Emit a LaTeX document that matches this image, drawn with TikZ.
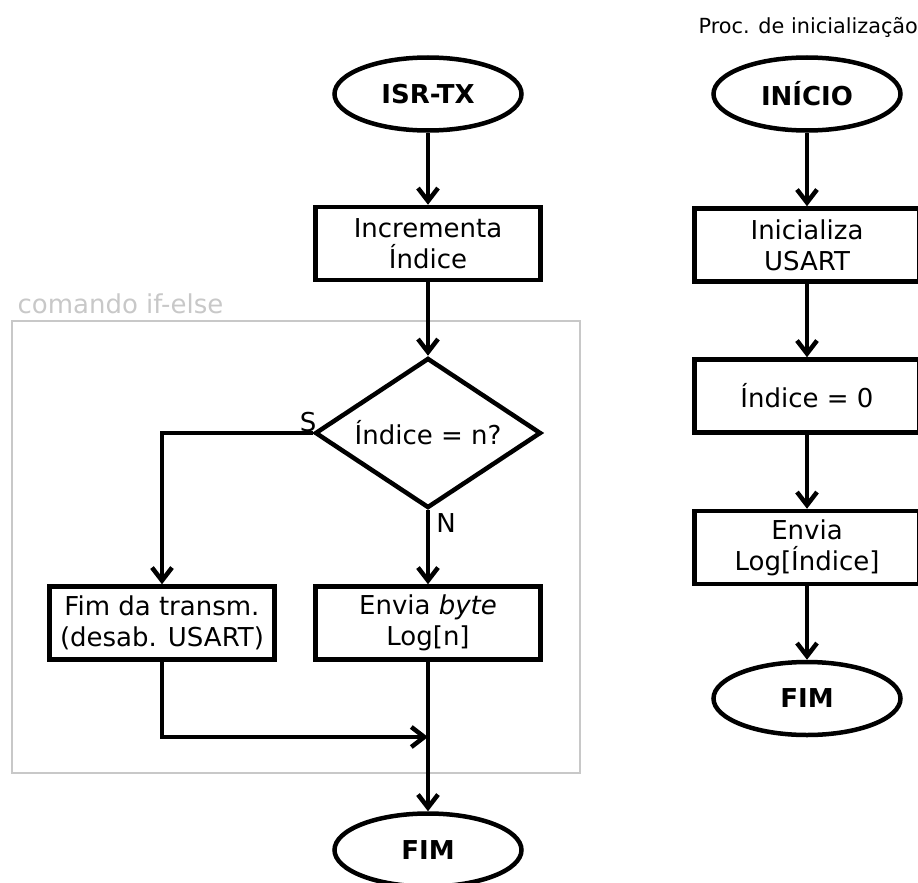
\documentclass[tikz,border=0pt]{standalone}
\usepackage{fontspec}
\setmainfont{DejaVu Sans}
\usetikzlibrary{shapes.geometric,arrows.meta}
\definecolor{framegray}{RGB}{200,200,200}
\begin{document}
\begin{tikzpicture}[x=1pt, y=-1pt, line width=4.5pt,
        >={Straight Barb[length=13pt,width=20pt]},
        every node/.style={font=\fontsize{26}{31}\selectfont, align=center},
        termnode/.style={ellipse, draw, inner sep=0pt, minimum width=187pt, minimum height=73pt, font=\fontsize{26}{31}\selectfont\bfseries},
        procbox/.style={rectangle, draw, inner sep=0pt, minimum width=225pt, minimum height=73pt},
        decnode/.style={diamond, draw, inner sep=0pt, aspect=1.5, minimum width=226pt, minimum height=150pt}]
    \useasboundingbox (0,0) rectangle (918,883);

    % bloco if-else
    \draw[framegray, line width=2pt] (12,321) rectangle (580,773);
    \node[framegray, anchor=base west] (iflbl) at (12,313) {comando if-else};

    % ISR de transmissao
    \node[termnode] (ISR) at (428,94) {ISR-TX};
    \node[procbox] (Inc) [below of=ISR, node distance=149.5pt] {Incrementa\\Índice};
    \node[decnode] (Dec) [below of=Inc, node distance=189.5pt] {Índice = n?};
    \node[procbox] (Env) [below of=Dec, node distance=190pt] {Envia \textit{byte}\\Log[n]};
    \node[procbox] (FimTx) [left of=Env, node distance=266pt] {Fim da transm.\\(desab. USART)};
    \node[termnode] (Fim) [below of=Env, node distance=227pt] {FIM};
    \coordinate (Join) at (428,737);

    \node (S) at (308,422) {S};
    \node (N) at (446,523) {N};

    \draw[->] (ISR) -- (Inc);
    \draw[->] (Inc) -- (Dec);
    \draw[->] (Dec) -- (Env);
    \draw[->] (Dec.west) -| (FimTx.north);
    \draw[->] (FimTx.south) |- (Join);
    \draw[->] (Env) -- (Fim);

    % inicializacao
    \node[anchor=west, font=\fontsize{20.8}{25}\selectfont] (Title) at (693,27) {Proc. de inicialização};
    \node[termnode] (Ini) at (807,94) {INÍCIO};
    \node[procbox] (Usart) [below of=Ini, node distance=151pt] {Inicializa\\USART};
    \node[procbox] (Zero) [below of=Usart, node distance=151pt] {Índice = 0};
    \node[procbox] (EnvLog) [below of=Zero, node distance=151.5pt] {Envia\\Log[Índice]};
    \node[termnode] (FimR) [below of=EnvLog, node distance=151pt] {FIM};

    \draw[->] (Ini) -- (Usart);
    \draw[->] (Usart) -- (Zero);
    \draw[->] (Zero) -- (EnvLog);
    \draw[->] (EnvLog) -- (FimR);
\end{tikzpicture}
\end{document}
